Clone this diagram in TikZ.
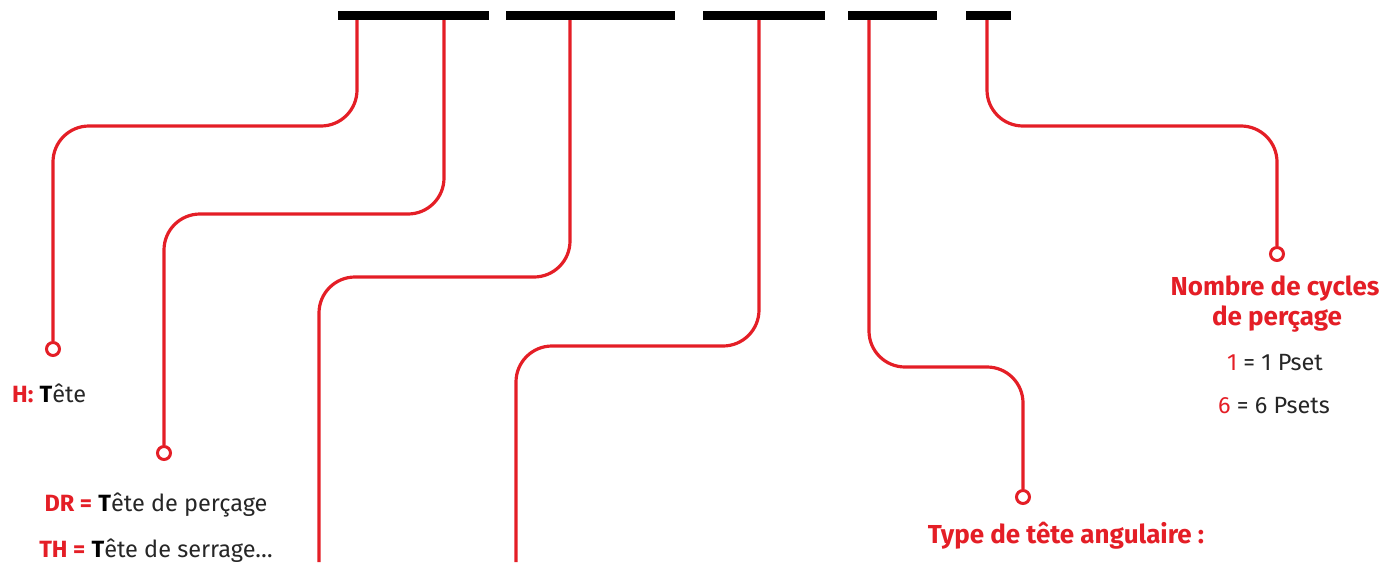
\documentclass[tikz,border=0pt]{standalone}
\usepackage{fontspec}
\setmainfont{Fira Sans}
\definecolor{codered}{RGB}{228,30,38}
\newcommand{\rd}[1]{\textcolor{codered}{#1}}
\tikzset{
	segbar/.style={fill=black},
	leader/.style={draw=codered, line width=3.2pt, rounded corners=36pt},
	pinring/.style={circle, draw=codered, line width=3pt, fill=white, inner sep=0pt, minimum size=13pt},
	head/.style={text=codered, font=\bfseries\fontsize{26}{30}\selectfont, inner sep=0pt, anchor=base},
	note/.style={text=black!85, font=\fontsize{23.5}{28}\selectfont, inner sep=0pt, anchor=base},
}
\begin{document}
\begin{tikzpicture}[x=1pt,y=-1pt]
		\useasboundingbox (0,0) rectangle (1386,562);
		% code segments
		\fill [segbar] (338,11) rectangle (489,20);
		\fill [segbar] (506,11) rectangle (675,20);
		\fill [segbar] (703,11) rectangle (825,20);
		\fill [segbar] (848,11) rectangle (937,20);
		\fill [segbar] (966,11) rectangle (1011,20);
		\coordinate (tH) at (357,20);
		\coordinate (tDR) at (444,20);
		\coordinate (tM) at (570,20);
		\coordinate (tL) at (759,20);
		\coordinate (tA) at (869,20);
		\coordinate (tN) at (987,20);
		\coordinate (eM) at (319,562);
		\coordinate (eL) at (516,562);
		% pins
		\node [pinring] (pH) at (53,349) {};
		\node [pinring] (pDR) at (164,453) {};
		\node [pinring] (pA) at (1023,497) {};
		\node [pinring] (pN) at (1277,254) {};
		% leaders
		\draw [leader] (tH) -- (357,126) -- (53,126) -- (pH.north);
		\draw [leader] (tDR) -- (444,214) -- (164,214) -- (pDR.north);
		\draw [leader] (tM) -- (570,277) -- (319,277) -- (eM);
		\draw [leader] (tL) -- (759,346) -- (516,346) -- (eL);
		\draw [leader] (tA) -- (869,367) -- (1023,367) -- (pA.north);
		\draw [leader] (tN) -- (987,126) -- (1277,126) -- (pN.north);
		% labels
		\node [note, anchor=base west] (lH) at (12,402) {\rd{\bfseries H:} \textbf{\color{black}T}ête};
		\node [note] (lDR) at (156,511) {\rd{\bfseries DR =} \textbf{\color{black}T}ête de perçage};
		\node [note] (lTH) at (156,557) {\rd{\bfseries TH =} \textbf{\color{black}T}ête de serrage…};
		\node [head] (lA) at (1066,543) {Type de tête angulaire :};
		\node [head] (lN1) at (1275,295) {Nombre de cycles};
		\node [head] (lN2) at (1277,325) {de perçage};
		\node [note] (lN3) at (1275,370) {\rd{1} = 1 Pset};
		\node [note] (lN4) at (1274,413) {\rd{6} = 6 Psets};
	\end{tikzpicture}
\end{document}
